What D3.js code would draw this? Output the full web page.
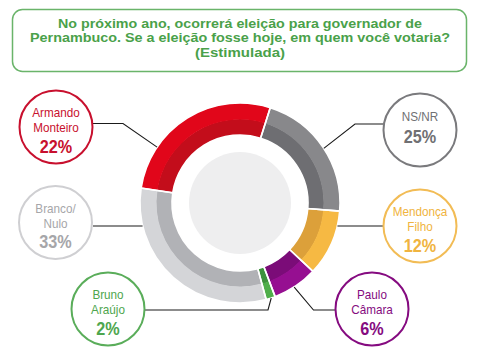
<!DOCTYPE html>
<html><head><meta charset="utf-8">
<script src="https://cdn.jsdelivr.net/npm/d3@7"></script>
<style>
html,body{margin:0;padding:0;background:#fff;}
svg{display:block;font-family:"Liberation Sans",Arial,sans-serif;}
</style></head><body>
<svg id="c" width="482" height="361"></svg>
<script>
// ---- data ----
const titleLines = ["No próximo ano, ocorrerá eleição para governador de",
  "Pernambuco. Se a eleição fosse hoje, em quem você votaria?",
  "(Estimulada)"];
const categories = ["Armando Monteiro", "NS/NR", "Mendonça Filho", "Paulo Câmara", "Bruno Araújo", "Branco/Nulo"];
const labelLines = [["Armando", "Monteiro"], ["NS/NR"], ["Mendonça", "Filho"], ["Paulo", "Câmara"], ["Bruno", "Araújo"], ["Branco/", "Nulo"]];
const percentValues = [22, 25, 12, 6, 2, 33];
// arc shares as drawn in the ring
const arcShares = [27.5, 21.4, 10.7, 7.3, 1.5, 31.6];

// ---- styles / layout ----
const outerColors = ["#e1061a", "#88888b", "#f6b943", "#960f91", "#4fae4a", "#d4d5d8"];
const innerColors = ["#c30d1b", "#6e6e72", "#dca03a", "#7b0c78", "#3e913d", "#b1b2b6"];
const textColors  = ["#c8102e", "#707073", "#f0b440", "#850b80", "#4ea64e", "#a6a6a9"];
const strokeColors= ["#c8102e", "#7a7a7d", "#f2bc55", "#850b80", "#5aad5a", "#cfcfd2"];
const labelPos = [[56,127],[420,130],[420,226],[372,309],[108,309],[55.5,222.5]];
// connector: angle on ring (deg), elbow point, end point
const connectors = [
  {a:304, elbow:[123,123.5], end:[93,123.5]},
  {a:56.9, elbow:[355,124], end:[383,124]},
  {a:103, elbow:null, end:[383,226]},
  {a:147.2, elbow:[313.5,310], end:[335,310]},
  {a:161.8, elbow:[268,310], end:[145,310]},
  {a:257, elbow:null, end:[93,226]}
];
const cx = 240, cy = 203;

const svg = d3.select("#c");

// title box
svg.append("rect").attr("x",12.5).attr("y",9.5).attr("width",454).attr("height",62)
  .attr("rx",10).attr("fill","#fff").attr("stroke","#6ab46a").attr("stroke-width",1.5);
const titleY = [27.5, 42, 56.5];
const titleW = [364, 420, 90];
titleLines.forEach((t,i)=>{
  svg.append("text").attr("x",240).attr("y",titleY[i]).attr("text-anchor","middle")
    .attr("font-size",13).attr("font-weight","bold").attr("fill","#4aa14a")
    .attr("textLength",titleW[i]).attr("lengthAdjust","spacingAndGlyphs").text(t);
});

// donut
const rScale = d3.scaleLinear().domain([0,1]).range([0,100]);
const pie = d3.pie().sort(null).value(d=>d)
  .startAngle(-81.4*Math.PI/180).endAngle(-81.4*Math.PI/180 + 2*Math.PI);
const arcsData = pie(arcShares);
const g = svg.append("g").attr("transform",`translate(${cx},${cy})`);
const outerArc = d3.arc().innerRadius(rScale(0.835)).outerRadius(rScale(1));
const innerArc = d3.arc().innerRadius(rScale(0.68)).outerRadius(rScale(0.84));
g.selectAll("path.in").data(arcsData).join("path").attr("class","in")
  .attr("d",innerArc).attr("fill",(d,i)=>innerColors[i]);
g.selectAll("path.out").data(arcsData).join("path").attr("class","out")
  .attr("d",outerArc).attr("fill",(d,i)=>outerColors[i]);
const sepArc = d3.arc().innerRadius(rScale(0.68)).outerRadius(rScale(1));
g.selectAll("path.sep").data(arcsData).join("path").attr("class","sep")
  .attr("d",sepArc).attr("fill","none").attr("stroke","#fff").attr("stroke-width",1.6);
g.append("circle").attr("r",rScale(0.51)).attr("fill","#eeeeef");

// connectors
connectors.forEach((c)=>{
  const a = c.a*Math.PI/180;
  const r = rScale(1);
  const p0 = [cx + r*Math.sin(a), cy - r*Math.cos(a)];
  const pts = [p0];
  if (c.elbow) pts.push(c.elbow); else p0[1] = c.end[1];
  pts.push(c.end);
  svg.append("path").attr("d", d3.line()(pts)).attr("fill","none")
    .attr("stroke","#1a1a1a").attr("stroke-width",1.1);
});

// labels
categories.forEach((cat,i)=>{
  const [x,y] = labelPos[i];
  const lg = svg.append("g").attr("transform",`translate(${x},${y})`);
  lg.append("circle").attr("r",36.5).attr("fill","#fff")
    .attr("stroke",strokeColors[i]).attr("stroke-width",2);
  const lines = labelLines[i];
  const ys = lines.length===2 ? [-10,5,25.5] : [-9,13];
  lines.forEach((l,j)=>{
    lg.append("text").attr("y",ys[j]).attr("text-anchor","middle")
      .attr("font-size",13).attr("fill",textColors[i]).attr("class","cond").text(l);
  });
  lg.append("text").attr("y",ys[ys.length-1]).attr("text-anchor","middle")
    .attr("font-size",18).attr("font-weight","bold").attr("fill",textColors[i])
    .attr("class","cond").text(percentValues[i]+"%");
});
svg.selectAll("text.cond").each(function(){
  const w = this.getComputedTextLength();
  d3.select(this).attr("textLength", w*0.9).attr("lengthAdjust","spacingAndGlyphs");
});
</script>
</body></html>
